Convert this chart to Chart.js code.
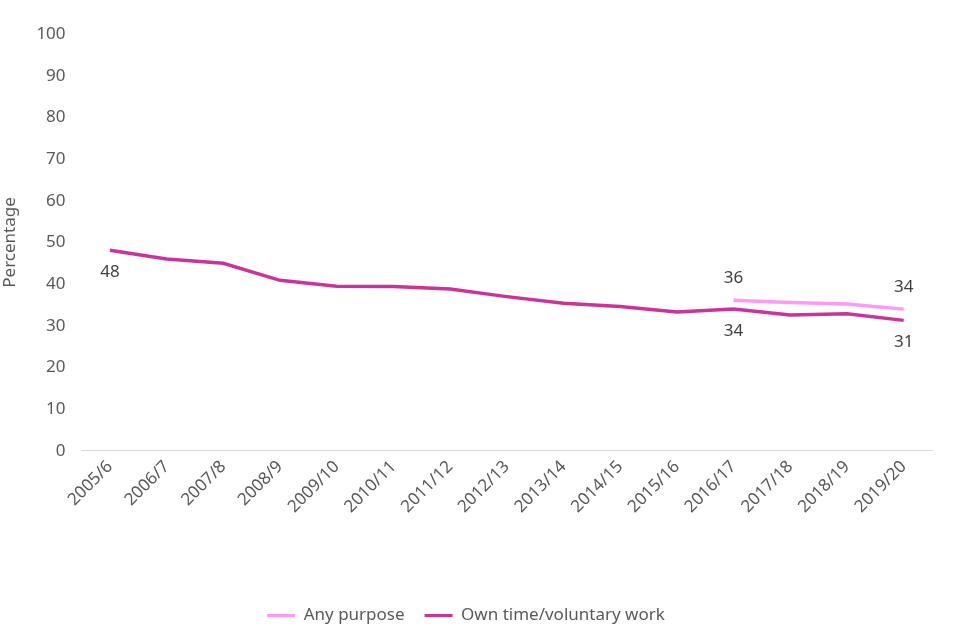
<!DOCTYPE html>
<html>
<head>
<meta charset="utf-8">
<script src="https://cdn.jsdelivr.net/npm/chart.js@4/dist/chart.umd.min.js"></script>
<style>
body{margin:0;background:#fff;}
#wrap{width:960px;height:640px;}
</style>
</head>
<body>
<div id="wrap"><canvas id="grafica"></canvas></div>
<script>
var years=["2005/6","2006/7","2007/8","2008/9","2009/10","2010/11","2011/12","2012/13","2013/14","2014/15","2015/16","2016/17","2017/18","2018/19","2019/20"];
var anyPurpose=[null,null,null,null,null,null,null,null,null,null,null,36.1,35.6,35.2,34.0];
var ownTime=[48.1,46.0,45.0,40.9,39.5,39.4,38.8,37.0,35.4,34.6,33.3,34.0,32.6,32.9,31.3];
var anyLabelAt=[11,14];
var ownLabelAt=[0,11,14];
var yTicks=[0,10,20,30,40,50,60,70,80,90,100];

var fuente='"Noto Sans", sans-serif';

// etiquetas de valores
var etiquetas={
  id:'etiquetas',
  afterDatasetsDraw:function(chart){
    var ctx=chart.ctx;
    ctx.save();
    ctx.font='17px '+fuente;
    ctx.fillStyle='#404040';
    ctx.textAlign='center';
    ctx.textBaseline='middle';
    var cfg=[{ds:0,idx:anyLabelAt,dy:-22},{ds:1,idx:ownLabelAt,dy:22}];
    cfg.forEach(function(c){
      var meta=chart.getDatasetMeta(c.ds);
      var vals=chart.data.datasets[c.ds].data;
      c.idx.forEach(function(i){
        var p=meta.data[i];
        ctx.fillText(Math.round(vals[i]),p.x,p.y+c.dy);
      });
    });
    ctx.restore();
  }
};

var ctx=document.getElementById('grafica').getContext('2d');
var myChart=new Chart(ctx,{
  type:'line',
  data:{
    labels:years,
    datasets:[{
      label:'Any purpose',
      data:anyPurpose,
      borderColor:'#ff99f5',
      backgroundColor:'#ff99f5',
      borderWidth:3.5,
      pointRadius:0,
      tension:0
    },{
      label:'Own time/voluntary work',
      data:ownTime,
      borderColor:'#cc3399',
      backgroundColor:'#cc3399',
      borderWidth:3.5,
      pointRadius:0,
      tension:0
    }]
  },
  options:{
    responsive:true,
    maintainAspectRatio:false,
    animation:false,
    layout:{padding:{left:0,right:28,top:34,bottom:6}},
    plugins:{
      legend:{
        position:'bottom',
        labels:{
          boxWidth:28,boxHeight:3,color:'#595959',font:{family:fuente,size:17},padding:20,
          generateLabels:function(chart){
            var items=Chart.defaults.plugins.legend.labels.generateLabels(chart);
            items.forEach(function(it){it.lineWidth=0;});
            return items;
          }
        }
      },
      tooltip:{enabled:false}
    },
    scales:{
      x:{
        offset:true,
        afterFit:function(s){s.height+=64;},
        grid:{display:false,drawTicks:false},
        border:{display:true,color:'#d9d9d9'},
        ticks:{color:'#595959',font:{family:fuente,size:17},maxRotation:45,minRotation:45,padding:6}
      },
      y:{
        min:0,max:100,
        afterBuildTicks:function(ax){ax.ticks=yTicks.map(function(v){return {value:v};});},
        grid:{display:false,drawTicks:false},
        border:{display:false},
        ticks:{color:'#595959',font:{family:fuente,size:17},padding:16},
        title:{display:true,text:'Percentage',color:'#595959',font:{family:fuente,size:17},padding:0}
      }
    }
  },
  plugins:[etiquetas]
});
</script>
</body>
</html>
